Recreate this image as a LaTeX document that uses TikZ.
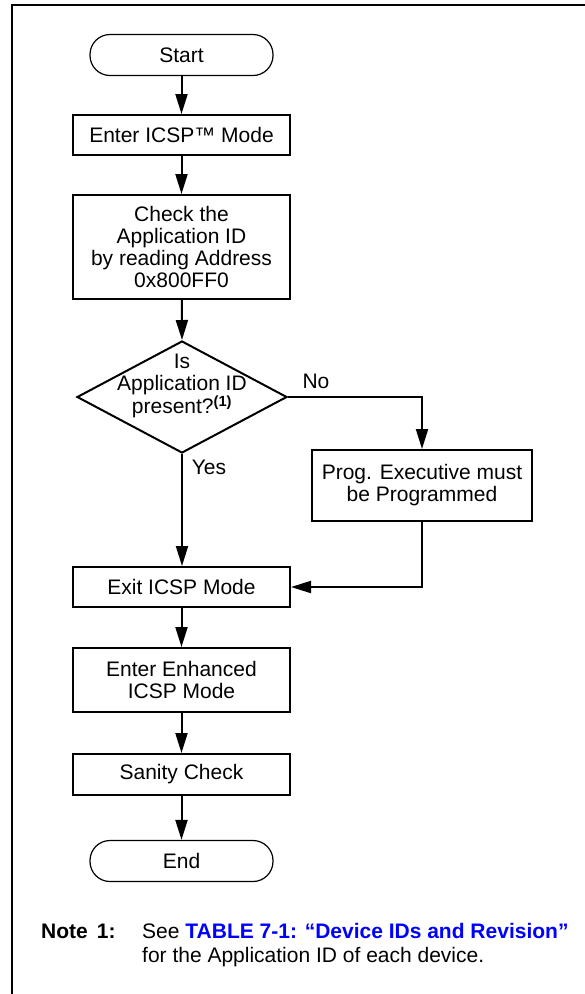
\documentclass[tikz,border=0pt]{standalone}
\usepackage{fontspec}
\setmainfont{Liberation Sans}
\usetikzlibrary{arrows.meta,shapes.geometric}

\tikzset{
  txt/.style={font=\fontsize{21}{22}\selectfont, align=center, inner sep=0pt},
  procbox/.style={txt, draw, line width=2pt, minimum width=217pt},
  term/.style={txt, draw, line width=1.2pt, rounded corners=20pt,
               minimum width=183pt, minimum height=41pt},
  decision/.style={draw, line width=2pt, diamond, inner sep=0pt,
                   minimum width=210pt, minimum height=112pt},
  flow/.style={line width=2pt, -{Triangle[length=20pt,width=12pt]}},
  lbl/.style={txt}
}

\begin{document}
\begin{tikzpicture}[x=1pt, y=-1pt]
  \useasboundingbox (0,0) rectangle (585,994);

  % open frame: left and top edges
  \draw[line width=2pt] (12,994) -- (12,5) -- (585,5);

  % main column
  \node[term]    (start)  at (181.5,55)  {Start};
  \node[procbox, minimum height=40pt]  (enter)  at (181.5,135) {Enter ICSP™ Mode};
  \node[procbox, minimum height=104pt] (check)  at (181.5,247)
        {Check the\\Application ID\\by reading Address\\0x800FF0};
  \node[decision] (dec) at (182,397) {};
  \node[txt] (dectext) at (182,386)
        {Is\\Application ID\\present?\textsuperscript{\textbf{(1)}}};
  \node[procbox, minimum width=220pt, minimum height=71pt] (prog) at (422,485.5)
        {Prog. Executive must\\be Programmed};
  \node[procbox, minimum height=40pt]  (exit)   at (181.5,587) {Exit ICSP Mode};
  \node[procbox, minimum height=64pt]  (enh)    at (181.5,680) {Enter Enhanced\\ICSP Mode};
  \node[procbox, minimum height=41pt]  (sanity) at (181.5,774.5) {Sanity Check};
  \node[term]    (end)    at (181.5,861) {End};

  % connectors
  \draw[flow] (start) -- (enter);
  \draw[flow] (enter) -- (check);
  \draw[flow] (check) -- (dec.north);
  \draw[flow] (dec.south) -- (exit.north -| dec.south);
  \draw[flow] (dec.east) -| (prog.north);
  \draw[flow] (prog.south) |- (exit.east);
  \draw[flow] (exit) -- (enh);
  \draw[flow] (enh) -- (sanity);
  \draw[flow] (sanity) -- (end);

  % branch labels
  \node[lbl] (no)  at (316,381) {No};
  \node[lbl] (yes) at (209,467) {Yes};

  % footnote
  \node[txt, anchor=base west] (notehead) at (41,938) {\textbf{Note\hspace{9pt}1:}};
  \node[txt, anchor=base west] (noteA) at (142,938)
        {See \textcolor{blue}{\textbf{TABLE 7-1: “Device IDs and Revision”}}};
  \node[txt, anchor=base west] (noteB) at (142,962)
        {for the Application ID of each device.};
\end{tikzpicture}
\end{document}
